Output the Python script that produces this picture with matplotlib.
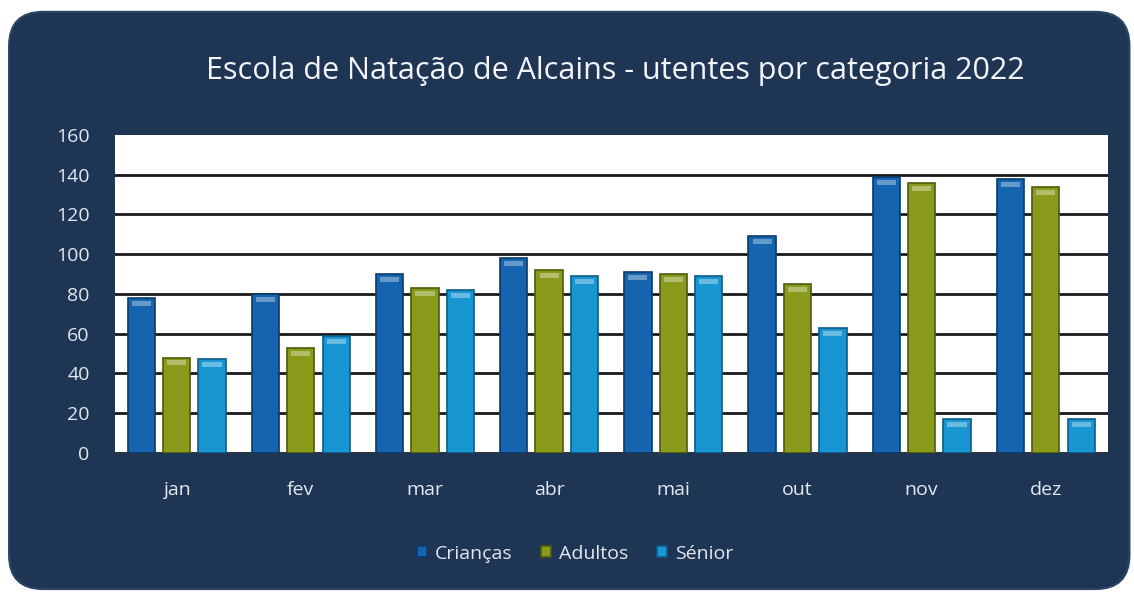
import numpy as np
import matplotlib
matplotlib.use("Agg")
import matplotlib.pyplot as plt
from matplotlib.patches import FancyBboxPatch

plt.rcParams['font.family'] = ['Open Sans', 'DejaVu Sans']

##### data #####
months = ['jan', 'fev', 'mar', 'abr', 'mai', 'out', 'nov', 'dez']
criancas = [78, 80, 90, 98, 91, 109, 139, 138]
adultos = [48, 53, 83, 92, 90, 85, 136, 134]
senior = [47, 59, 82, 89, 89, 63, 17, 17]
series_names = ['Crianças', 'Adultos', 'Sénior']
colors = ['#1464b0', '#8a9b1c', '#1896d2']
edges = ['#0b3a6a', '#4f5a0c', '#0d5a88']

fig = plt.figure(figsize=(11.34, 5.92), dpi=100)
fig.patch.set_facecolor('white')

# dark rounded panel behind everything
panel = FancyBboxPatch((0.008, 0.005), 0.988, 0.975,
                       boxstyle="round,pad=0,rounding_size=0.03",
                       transform=fig.transFigure, facecolor='#1f3554',
                       edgecolor='#2c4566', linewidth=1.5, zorder=-10,
                       mutation_aspect=1134 / 592)
fig.patches.append(panel)

ax = fig.add_axes([0.101, 0.235, 0.876, 0.537])
ax.set_zorder(1)
ax.set_facecolor('white')

x = np.arange(len(months))
width = 0.22
step = 0.285
for i, (vals, name) in enumerate(zip([criancas, adultos, senior], series_names)):
    ax.bar(x + (i - 1) * step, vals, width, color=colors[i],
           edgecolor=edges[i], linewidth=1.2, label=name, zorder=3)
    # light highlight cap on top of each bar
    ax.bar(x + (i - 1) * step, [2.5] * len(vals), width * 0.7,
           bottom=np.array(vals) - 4, color='white', alpha=0.35,
           linewidth=0, zorder=4)

ax.set_xlim(-0.5, len(months) - 0.5)
ax.set_ylim(0, 160)
ax.set_yticks(range(0, 161, 20))
ax.set_xticks(x)
ax.set_xticklabels(months)
ax.tick_params(colors='#e3e8ef', labelsize=14, length=0, pad=20)
ax.tick_params(axis='y', pad=18)
ax.grid(axis='y', color='#1a1a1a', linewidth=2, zorder=1)
ax.set_axisbelow(True)
# no line along the top edge (160)
ax.get_ygridlines()[-1].set_visible(False)
for s in ax.spines.values():
    s.set_visible(False)

fig.text(0.543, 0.88, 'Escola de Natação de Alcains - utentes por categoria 2022',
         ha='center', va='center', color='#f2f4f7', fontsize=22)

leg = fig.legend(loc='center', bbox_to_anchor=(0.507, 0.065), ncol=3,
                 frameon=False, fontsize=14, labelcolor='#e3e8ef',
                 handlelength=0.5, handleheight=0.5, handletextpad=0.4,
                 columnspacing=1.5)

plt.savefig('out.png', dpi=100, facecolor=fig.get_facecolor())
